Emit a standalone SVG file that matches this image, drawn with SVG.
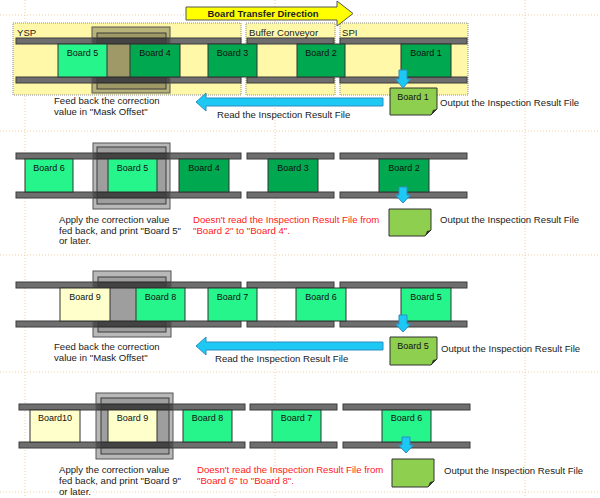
<svg xmlns="http://www.w3.org/2000/svg" width="600" height="498" viewBox="0 0 600 498">
<style>
text{font-family:"Liberation Sans",Arial,sans-serif;fill:#222}
.t{font-size:9.6px}
.bl{font-size:9px;text-anchor:middle;fill:#111}
.red{font-size:9.6px;fill:#FF2020}
.guide{stroke:#F5CFA0;stroke-width:1;stroke-dasharray:1 2;fill:none}
.zone{fill:#FFF8A8;stroke:#8A8A8A;stroke-width:1;stroke-dasharray:1 1}
.rail{fill:#6E6E6E;stroke:#3C3C3C;stroke-width:1}
.fo{fill:#000;fill-opacity:0.28;stroke:#555;stroke-width:1}
.fi{fill:#000;fill-opacity:0.14;stroke:#3A3A3A;stroke-width:1}
.lg{fill:#26F58C;stroke:#333;stroke-width:1}
.dg{fill:#00A84F;stroke:#333;stroke-width:1}
.ly{fill:#FFFFCC;stroke:#333;stroke-width:1}
.doc{fill:#8FCF4F;stroke:#333;stroke-width:1}
.cy{fill:#1CC8F4;stroke:#2E8EC0;stroke-width:1}
</style>
<rect width="600" height="498" fill="#fff"/>
<g id="guides">
<line class="guide" x1="25" y1="0" x2="25" y2="498"/>
<line class="guide" x1="275" y1="0" x2="275" y2="498"/>
<line class="guide" x1="525" y1="0" x2="525" y2="498"/>
<line class="guide" x1="0" y1="15" x2="600" y2="15"/>
<line class="guide" x1="0" y1="131" x2="600" y2="131"/>
<line class="guide" x1="0" y1="255" x2="600" y2="255"/>
<line class="guide" x1="0" y1="372" x2="600" y2="372"/>
<line class="guide" x1="0" y1="492" x2="600" y2="492"/>
</g>
<!-- Section 1 zones -->
<g id="zone-ysp"><rect class="zone" x="13" y="23" width="228" height="72"/><text class="t" x="17" y="36">YSP</text></g>
<g id="zone-buffer"><rect class="zone" x="246" y="23" width="89" height="72"/><text class="t" x="249" y="36">Buffer Conveyor</text></g>
<g id="zone-spi"><rect class="zone" x="340" y="23" width="128" height="72"/><text class="t" x="342" y="36">SPI</text></g>

<!-- Rails -->
<g id="rails">
<rect class="rail" x="16" y="38" width="225" height="6"/><rect class="rail" x="247" y="38" width="87" height="6"/><rect class="rail" x="340" y="38" width="127" height="6"/>
<rect class="rail" x="16" y="77" width="225" height="6"/><rect class="rail" x="247" y="77" width="87" height="6"/><rect class="rail" x="340" y="77" width="127" height="6"/>
<rect class="rail" x="16" y="153" width="225" height="6"/><rect class="rail" x="247" y="153" width="87" height="6"/><rect class="rail" x="340" y="153" width="127" height="6"/>
<rect class="rail" x="16" y="192" width="225" height="6"/><rect class="rail" x="247" y="192" width="87" height="6"/><rect class="rail" x="340" y="192" width="127" height="6"/>
<rect class="rail" x="16" y="282" width="225" height="6"/><rect class="rail" x="247" y="282" width="87" height="6"/><rect class="rail" x="340" y="282" width="127" height="6"/>
<rect class="rail" x="16" y="321" width="225" height="6"/><rect class="rail" x="247" y="321" width="87" height="6"/><rect class="rail" x="340" y="321" width="127" height="6"/>
<rect class="rail" x="19" y="404" width="226" height="6"/><rect class="rail" x="250" y="404" width="87" height="6"/><rect class="rail" x="343" y="404" width="127" height="6"/>
<rect class="rail" x="19" y="442" width="226" height="6"/><rect class="rail" x="250" y="442" width="87" height="6"/><rect class="rail" x="343" y="442" width="127" height="6"/>
</g>

<!-- Printer frames (mask) -->
<g id="frame-1"><rect class="fo" x="92" y="27" width="78" height="66"/><rect class="fi" x="97" y="33" width="69" height="56"/></g>
<g id="frame-2"><rect class="fo" x="93" y="143" width="77" height="66"/><rect class="fi" x="97" y="147" width="69" height="57"/></g>
<g id="frame-3"><rect class="fo" x="93" y="271" width="78" height="66"/><rect class="fi" x="98" y="277" width="68" height="55"/></g>
<g id="frame-4"><rect class="fo" x="96" y="393" width="77" height="66"/><rect class="fi" x="101" y="398" width="68" height="56"/></g>

<!-- Section 1 boards -->
<g id="s1-board5"><rect class="lg" x="58" y="44" width="49" height="33"/><text class="bl" x="82.5" y="56">Board 5</text></g>
<g id="s1-board4"><rect class="dg" x="130" y="44" width="50" height="33"/><text class="bl" x="155" y="56">Board 4</text></g>
<g id="s1-board3"><rect class="dg" x="208" y="44" width="49" height="33"/><text class="bl" x="232.5" y="56">Board 3</text></g>
<g id="s1-board2"><rect class="dg" x="297" y="44" width="48" height="33"/><text class="bl" x="321" y="56">Board 2</text></g>
<g id="s1-board1"><rect class="dg" x="401" y="44" width="50" height="33"/><text class="bl" x="426" y="56">Board 1</text></g>

<!-- Section 2 boards -->
<g id="s2-board6"><rect class="lg" x="25" y="159" width="48" height="33"/><text class="bl" x="49" y="171">Board 6</text></g>
<g id="s2-board5"><rect class="lg" x="108" y="159" width="49" height="33"/><text class="bl" x="132.5" y="171">Board 5</text></g>
<g id="s2-board4"><rect class="dg" x="179" y="159" width="50" height="33"/><text class="bl" x="204" y="171">Board 4</text></g>
<g id="s2-board3"><rect class="dg" x="268" y="159" width="50" height="33"/><text class="bl" x="293" y="171">Board 3</text></g>
<g id="s2-board2"><rect class="dg" x="379" y="159" width="50" height="33"/><text class="bl" x="404" y="171">Board 2</text></g>

<!-- Section 3 boards -->
<g id="s3-board9"><rect class="ly" x="60" y="288" width="50" height="33"/><text class="bl" x="85" y="300">Board 9</text></g>
<g id="s3-board8"><rect class="lg" x="136" y="288" width="49" height="33"/><text class="bl" x="160.5" y="300">Board 8</text></g>
<g id="s3-board7"><rect class="lg" x="208" y="288" width="49" height="33"/><text class="bl" x="232.5" y="300">Board 7</text></g>
<g id="s3-board6"><rect class="lg" x="296" y="288" width="50" height="33"/><text class="bl" x="321" y="300">Board 6</text></g>
<g id="s3-board5"><rect class="lg" x="401" y="288" width="50" height="33"/><text class="bl" x="426" y="300">Board 5</text></g>

<!-- Section 4 boards -->
<g id="s4-board10"><rect class="ly" x="30" y="410" width="50" height="32"/><text class="bl" x="55" y="421">Board10</text></g>
<g id="s4-board9"><rect class="ly" x="108" y="410" width="49" height="32"/><text class="bl" x="132.5" y="421">Board 9</text></g>
<g id="s4-board8"><rect class="lg" x="183" y="410" width="49" height="32"/><text class="bl" x="207.5" y="421">Board 8</text></g>
<g id="s4-board7"><rect class="lg" x="272" y="410" width="49" height="32"/><text class="bl" x="296.5" y="421">Board 7</text></g>
<g id="s4-board6"><rect class="lg" x="382" y="410" width="49" height="32"/><text class="bl" x="406.5" y="421">Board 6</text></g>

<!-- Inspection result files -->
<g id="s1-file"><path class="doc" d="M390,88 H437 V109 L431,115 H390 Z"/><path d="M437,109 L431,115 L433,110 Z" fill="#333"/><text class="bl" x="413" y="100">Board 1</text></g>
<g id="s2-file"><path class="doc" d="M389,209 H431 V230 L425,236 H389 Z"/><path d="M431,230 L425,236 L427,231 Z" fill="#333"/></g>
<g id="s3-file"><path class="doc" d="M390,337 H437 V359 L431,365 H390 Z"/><path d="M437,359 L431,365 L433,360 Z" fill="#333"/><text class="bl" x="413" y="349">Board 5</text></g>
<g id="s4-file"><path class="doc" d="M392,459 H434 V481 L428,487 H392 Z"/><path d="M434,481 L428,487 L430,482 Z" fill="#333"/></g>

<!-- Connectors / arrows -->
<g id="connectors">
<path d="M186,7 H337 V1 L353,13.5 L337,26 V20 H186 Z" fill="#FFFF00" stroke="#555" stroke-width="1"/>
<path class="cy" d="M399,70 H407 V79 H410.5 L403,88 L395.5,79 H399 Z"/>
<path class="cy" d="M399,187 H407 V195 H410.5 L403,203 L395.5,195 H399 Z"/>
<path class="cy" d="M399,315 H407 V324 H410.5 L403,332 L395.5,324 H399 Z"/>
<path class="cy" d="M402,437 H410 V445 H413.5 L406,453 L398.5,445 H402 Z"/>
<path class="cy" d="M383,98 V106 H206 V111 L196,102 L206,93 V98 Z"/>
<path class="cy" d="M383,342 V350 H206 V355 L196,346 L206,337 V342 Z"/>
</g>
<text x="263" y="17" font-size="9.5" font-weight="bold" text-anchor="middle" textLength="111" lengthAdjust="spacingAndGlyphs">Board Transfer Direction</text>

<!-- Labels -->
<g id="s1-labels">
<text class="t" x="54" y="104">Feed back the correction</text>
<text class="t" x="54" y="115">value in "Mask Offset"</text>
<text class="t" x="217" y="118">Read the Inspection Result File</text>
<text class="t" x="440" y="106">Output the Inspection Result File</text>
</g>
<g id="s2-labels">
<text class="t" x="59" y="223">Apply the correction value</text>
<text class="t" x="59" y="234">fed back, and print "Board 5"</text>
<text class="t" x="59" y="244">or later.</text>
<text class="red" x="193" y="223">Doesn't read the Inspection Result File from</text>
<text class="red" x="193" y="234">"Board 2" to "Board 4".</text>
<text class="t" x="440" y="223">Output the Inspection Result File</text>
</g>
<g id="s3-labels">
<text class="t" x="54" y="350">Feed back the correction</text>
<text class="t" x="54" y="361">value in "Mask Offset"</text>
<text class="t" x="215" y="362">Read the Inspection Result File</text>
<text class="t" x="441" y="352">Output the Inspection Result File</text>
</g>
<g id="s4-labels">
<text class="t" x="59" y="473">Apply the correction value</text>
<text class="t" x="59" y="484">fed back, and print "Board 9"</text>
<text class="t" x="59" y="495">or later.</text>
<text class="red" x="197" y="473">Doesn't read the Inspection Result File from</text>
<text class="red" x="197" y="484">"Board 6" to "Board 8".</text>
<text class="t" x="444" y="474">Output the Inspection Result File</text>
</g>
</svg>
